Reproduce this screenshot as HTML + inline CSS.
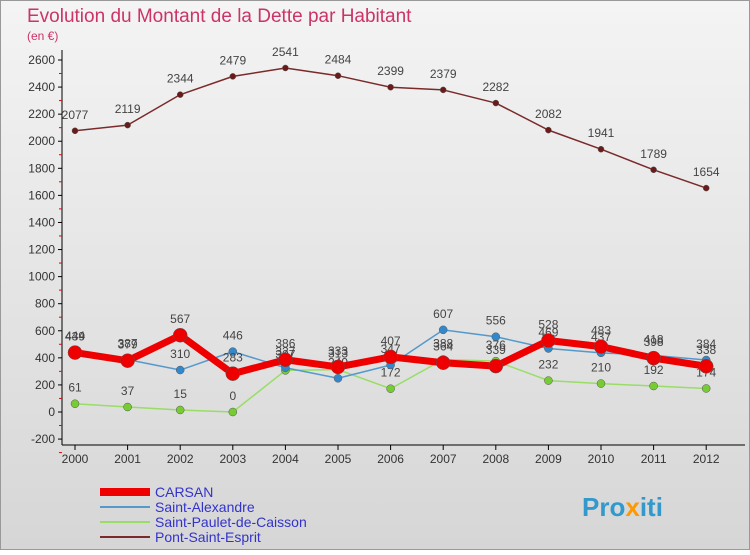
<!DOCTYPE html>
<html><head><meta charset="utf-8"><style>
body{margin:0;width:750px;height:550px;overflow:hidden;font-family:"Liberation Sans",sans-serif;}
</style></head><body>
<svg width="750" height="550" xmlns="http://www.w3.org/2000/svg">
<defs><linearGradient id="bg" x1="0" y1="0" x2="0" y2="1"><stop offset="0" stop-color="#f4f4f4"/><stop offset="1" stop-color="#d6d6d6"/></linearGradient></defs>
<rect width="750" height="550" fill="url(#bg)"/>
<rect x="0.5" y="0.5" width="749" height="549" fill="none" stroke="#999"/>
<text x="27" y="22" font-size="19" fill="#cc3366">Evolution du Montant de la Dette par Habitant</text>
<text x="27" y="40" font-size="12" fill="#cc3366">(en €)</text>
<g id="axes"></g><g id="series"></g><g id="legend"></g>
<text x="582" y="516" font-size="26" font-weight="bold" fill="#3399cc">Pro<tspan fill="#ff9900">x</tspan>iti</text>
</svg>
<script>
const years=[2000,2001,2002,2003,2004,2005,2006,2007,2008,2009,2010,2011,2012];
const yTicks=[-200,0,200,400,600,800,1000,1200,1400,1600,1800,2000,2200,2400,2600];
const carsan=[439,379,567,283,386,333,407,364,339,528,483,398,338];
const alexandre=[444,387,310,446,327,249,347,607,556,469,437,418,384];
const paulet=[61,37,15,0,307,313,172,388,376,232,210,192,174];
const pont=[2077,2119,2344,2479,2541,2484,2399,2379,2282,2082,1941,1789,1654];
const NS="http://www.w3.org/2000/svg";
const X=i=>75+i*52.6;
const Y=v=>412-v*352/2600;
function mk(tag,attrs,parent){const e=document.createElementNS(NS,tag);for(const k in attrs)e.setAttribute(k,attrs[k]);parent.appendChild(e);return e;}
const ax=document.getElementById('axes');
let a=mk('line',{x1:62,y1:50,x2:62,y2:445,stroke:'#000'},ax);


a=mk('line',{x1:62,y1:445,x2:745,y2:445,stroke:'#000'},ax);


yTicks.forEach(v=>{
 const y=Y(v);
 let t=mk('line',{x1:58,y1:y,x2:62,y2:y,stroke:'#000'},ax);
 
 
 let m=mk('line',{x1:59,y1:y+13.5,x2:62,y2:y+13.5,stroke:'#e00'},ax);
 
 
 let l=mk('text',{x:55,y:y+4,'font-size':12,'text-anchor':'end',fill:'#333'},ax);
 l.textContent=v;
 
 
});
years.forEach((yr,i)=>{
 let t=mk('line',{x1:X(i),y1:445,x2:X(i),y2:450,stroke:'#000'},ax);
 
 
 let l=mk('text',{x:X(i),y:463,'font-size':12,'text-anchor':'middle',fill:'#333'},ax);
 l.textContent=yr;
 
 
});
const sg=document.getElementById('series');
function draw(data,color,w,r,name,dot){
 const g=mk('g',{},sg);
 
 
 const p=mk('polyline',{points:data.map((v,i)=>X(i)+','+Y(v)).join(' '),fill:'none',stroke:color,'stroke-width':w,'stroke-linejoin':'round'},g);
 
 
 data.forEach((v,i)=>{
  const c=mk('circle',{cx:X(i),cy:Y(v),r:r,fill:dot,stroke:'#555','stroke-width':0.5},g);
  
  
  const t=mk('text',{x:X(i),y:Y(v)-12,'font-size':12,'text-anchor':'middle',fill:'#444'},g);
  t.textContent=v;
  
  
 });
}
draw(pont,'#7a2a2a',1.5,3,'pont-saint-esprit','#6b1a1a');
draw(paulet,'#99dd66',1.5,4,'saint-paulet-de-caisson','#77cc33');
draw(alexandre,'#5599cc',1.5,4,'saint-alexandre','#3388cc');
draw(carsan,'#ee0000',7,7,'carsan','#ee0000');
const lg=document.getElementById('legend');
const items=[['CARSAN','#ee0000',8],['Saint-Alexandre','#5599cc',2],['Saint-Paulet-de-Caisson','#99dd66',2],['Pont-Saint-Esprit','#7a2a2a',2]];
items.forEach((it,i)=>{
 const y=492+i*15;
 const l=mk('line',{x1:100,y1:y,x2:150,y2:y,stroke:it[1],'stroke-width':it[2]},lg);
 
 
 const t=mk('text',{x:155,y:y+5,'font-size':14,fill:'#3333cc'},lg);
 t.textContent=it[0];
 
 
});
</script>
</body></html>
